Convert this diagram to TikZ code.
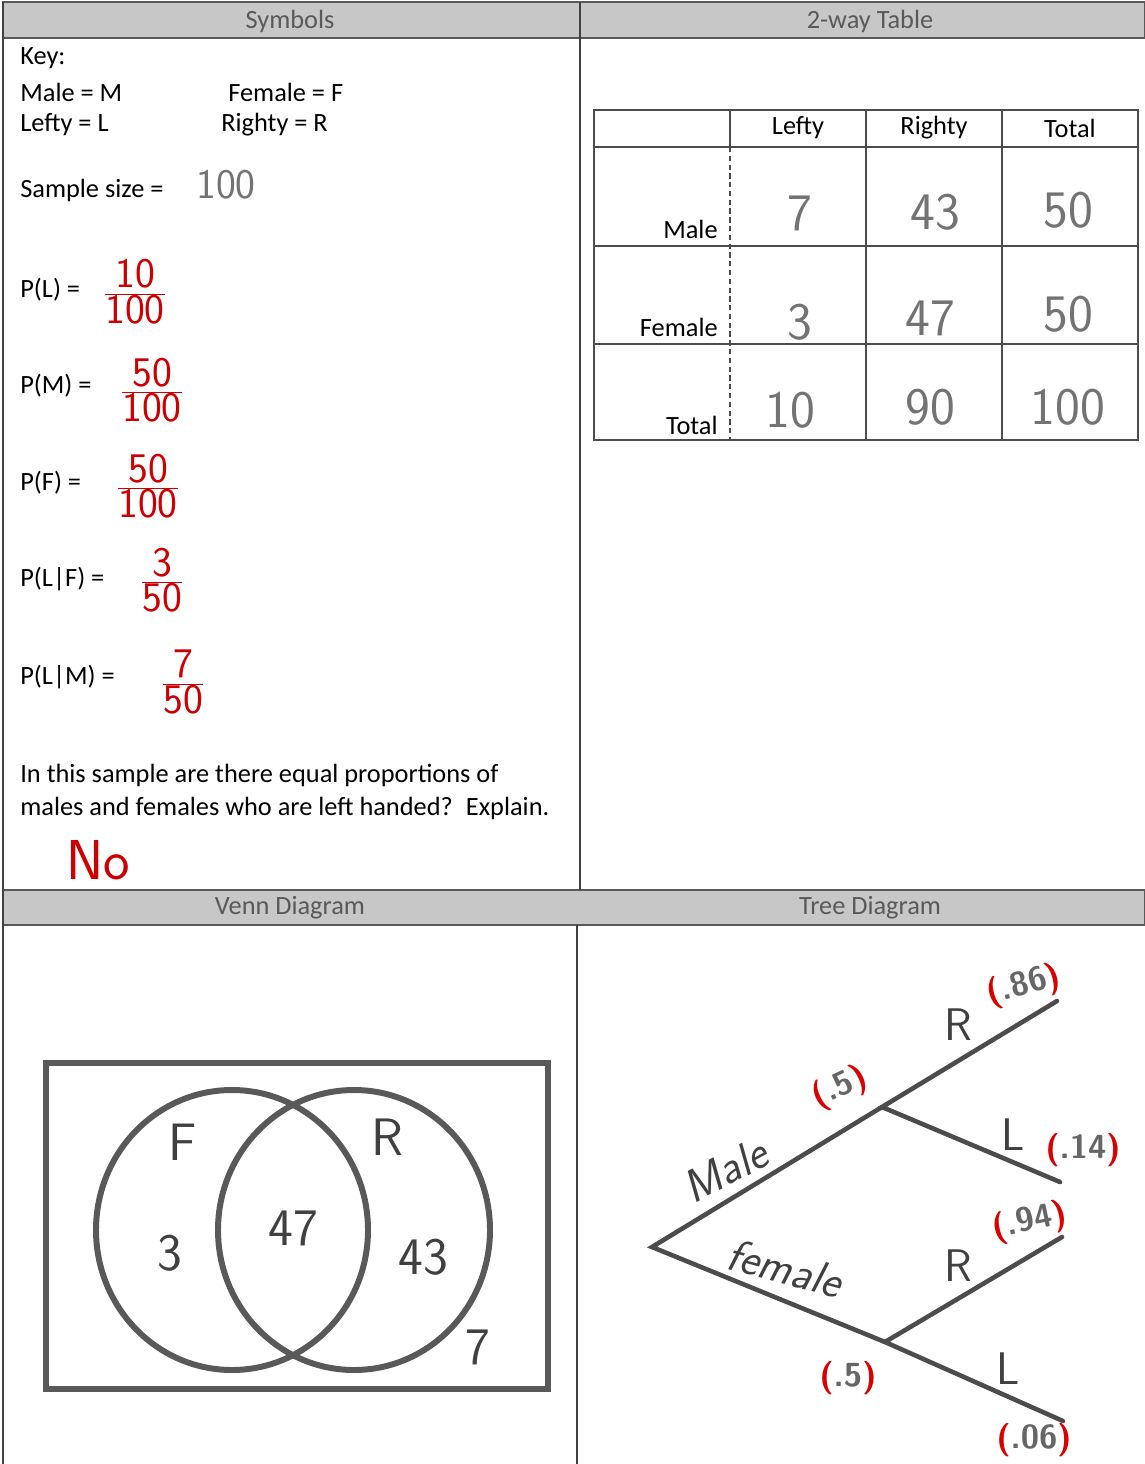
\documentclass[tikz,border=0pt]{standalone}
\usepackage{fontspec}
\setmainfont{Carlito}
\usetikzlibrary{positioning,calc}

\begin{document}
\begin{tikzpicture}[x=0.02cm, y=-0.02cm,
  txt/.style={anchor=west, font=\fontsize{15}{18}\selectfont, inner sep=0pt},
  cell/.style={font=\fontsize{15}{18}\selectfont},
  head/.style={font=\fontsize{15}{18}\selectfont, text=black!65},
  bar/.style={fill=black!22, draw=black!65, line width=0.8pt},
  rule/.style={draw=black!75, line width=0.8pt},
  tbl/.style={draw=black!70, line width=0.7pt},
  hand/.style={font=\fontsize{30}{32}\sffamily, text=black!55},
  frac/.style={font=\fontsize{24}{26}\sffamily, text=red!80!black},
  venn/.style={draw=black!65, line width=3.4pt},
  vnum/.style={font=\fontsize{30}{32}\sffamily, text=black!75},
  branch/.style={draw=black!70, line width=2.6pt, line cap=round},
  tlab/.style={font=\fontsize{26}{28}\sffamily, text=black!75, inner sep=0pt},
  prob/.style={font=\fontsize{19}{21}\sffamily\bfseries, text=black!60, inner sep=0pt}
]
  \useasboundingbox (0,0) rectangle (1145,1464);
  \newcommand\rp[1]{{\color{red!85!black}(}#1{\color{red!85!black})}}

  % header bars and panel lines
  \filldraw[bar] (3,2) rectangle (1145,38);
  \filldraw[bar] (3,890) rectangle (1145,925);
  \draw[rule] (3,2) -- (3,1464);
  \draw[rule] (580,2) -- (580,890);
  \draw[rule] (577,925) -- (577,1464);
  \node[head] (symhdr) at (290,21) {Symbols};
  \node[head] (tabhdr) at (870,21) {2-way Table};
  \node[head] (venhdr) at (290,908) {Venn Diagram};
  \node[head] (trehdr) at (870,908) {Tree Diagram};

  % symbols
  \node[txt] (key) at (20,58) {Key:};
  \node[txt] (kmale) at (20,92) {Male = M};
  \node[txt] (kfem) at (228,92) {Female = F};
  \node[txt] (klef) at (20,125) {Lefty = L};
  \node[txt] (krig) at (221,125) {Righty = R};
  \node[txt] (ssize) at (20,190) {Sample size =};
  \node[hand, font=\fontsize{24}{26}\sffamily] (ssval) at (226,185) {100};

  \node[txt] (pl) at (20,290) {P(L) =};
  \node[frac] (plv) at (135,292) {$\frac{\mbox{10}}{\mbox{100}}$};
  \node[txt] (pm) at (20,386) {P(M) =};
  \node[frac] (pmv) at (152,390) {$\frac{\mbox{50}}{\mbox{100}}$};
  \node[txt] (pf) at (20,483) {P(F) =};
  \node[frac] (pfv) at (148,486) {$\frac{\mbox{50}}{\mbox{100}}$};
  \node[txt] (plf) at (20,579) {P(L|F) =};
  \node[frac] (plfv) at (162,580) {$\frac{\mbox{3}}{\mbox{50}}$};
  \node[txt] (plm) at (20,677) {P(L|M) =};
  \node[frac] (plmv) at (183,682) {$\frac{\mbox{7}}{\mbox{50}}$};

  \node[txt] (q1) at (20,775) {In this sample are there equal proportions of};
  \node[txt] (q2) at (20,808) {males and females who are left handed?\enspace Explain.};
  \node[frac, font=\fontsize{32}{34}\sffamily] (ans) at (98,860) {No};

  % 2-way table
  \draw[tbl] (594,110) rectangle (1138,440);
  \foreach \y in {147,246,344}
    \draw[tbl] (594,\y) -- (1138,\y);
  \draw[tbl] (730,110) -- (730,147);
  \draw[tbl, densely dashed] (730,147) -- (730,440);
  \foreach \x in {866,1002}
    \draw[tbl] (\x,110) -- (\x,440);
  \node[cell] (clef) at (798,128) {Lefty};
  \node[cell] (crig) at (934,128) {Righty};
  \node[cell] (ctot) at (1070,128) {Total};
  \node[txt, anchor=east] (rmale) at (718,229) {Male};
  \node[txt, anchor=east] (rfem) at (718,327) {Female};
  \node[txt, anchor=east] (rtot) at (718,425) {Total};
  \node[hand] (c11) at (800,213) {7};
  \node[hand] (c12) at (935,212) {43};
  \node[hand] (c13) at (1068,210) {50};
  \node[hand] (c21) at (800,322) {3};
  \node[hand] (c22) at (930,318) {47};
  \node[hand] (c23) at (1068,314) {50};
  \node[hand] (c31) at (790,410) {10};
  \node[hand] (c32) at (930,407) {90};
  \node[hand] (c33) at (1068,407) {100};

  % venn diagram
  \draw[venn] (46,1063) rectangle (548,1389);
  \draw[venn] (232,1230) ellipse [x radius=136, y radius=140];
  \draw[venn] (354,1230) ellipse [x radius=136, y radius=140];
  \node[vnum] (vf) at (183,1142) {F};
  \node[vnum] (vr) at (387,1137) {R};
  \node[vnum] (v3) at (170,1253) {3};
  \node[vnum] (v47) at (293,1228) {47};
  \node[vnum] (v43) at (423,1257) {43};
  \node[vnum] (v7) at (478,1347) {7};

  % tree diagram
  \coordinate (root) at (652,1247);
  \coordinate (tm) at (882,1107);
  \coordinate (tf) at (885,1342);
  \coordinate (tmr) at (1057,1001);
  \coordinate (tml) at (1060,1182);
  \coordinate (tfr) at (1062,1237);
  \coordinate (tfl) at (1063,1421);
  \draw[branch] (tm) -- (root) -- (tf);
  \draw[branch] (tmr) -- (tm) -- (tml);
  \draw[branch] (tfr) -- (tf) -- (tfl);
  \node[tlab, rotate=28] (lmale) at (725,1170) {\itshape Male};
  \node[tlab, rotate=-15] (lfem) at (785,1268) {\itshape female};
  \node[prob, rotate=25] (pmale) at (840,1088) {\rp{.5}};
  \node[prob] (pfem) at (848,1378) {\rp{.5}};
  \node[tlab] (lmr) at (958,1025) {R};
  \node[prob, rotate=15] (pmr) at (1024,986) {\rp{.86}};
  \node[tlab] (lml) at (1013,1135) {L};
  \node[prob] (pml) at (1083,1150) {\rp{.14}};
  \node[tlab] (lfr) at (958,1266) {R};
  \node[prob, rotate=12] (pfr) at (1030,1222) {\rp{.94}};
  \node[tlab] (lfl) at (1008,1369) {L};
  \node[prob] (pfl) at (1034,1440) {\rp{.06}};
\end{tikzpicture}
\end{document}
